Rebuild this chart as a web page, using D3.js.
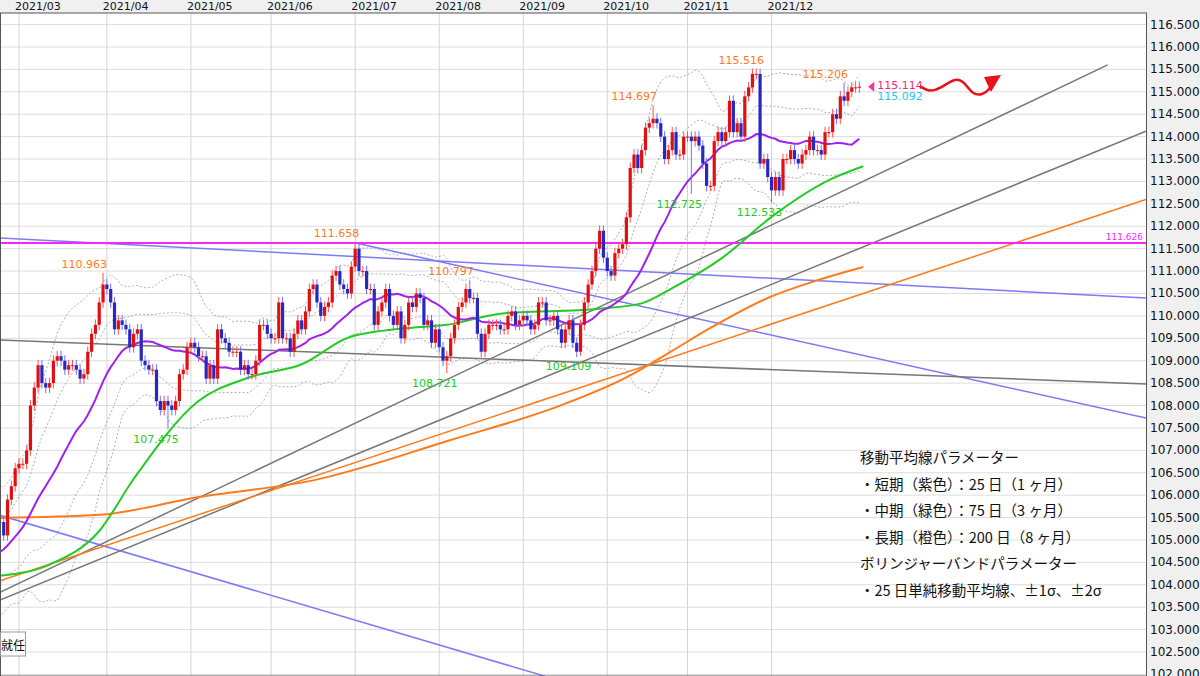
<!DOCTYPE html>
<html><head><meta charset="utf-8">
<script src="https://cdn.jsdelivr.net/npm/d3@7"></script>
<style>body{margin:0;background:#fff;font-family:"Noto Sans CJK JP","DejaVu Sans",sans-serif}</style>
</head><body><svg id="c" width="1200" height="676"></svg>
<script>
// daily closes; warm-up (Jan/Feb, off-screen) then visible from Feb 22
var warmup = [103.6,103.8,103.7,104.1,104.2,103.9,103.6,103.8,104.3,104.7,104.9,105.0,105.0,105.5,105.4,104.6,104.8,104.9,104.9,105.1,106.0,106.0,105.7,105.4];
var feb = [105.4,105.1,105.9,106.2,106.6];
var mar = [106.7,106.7,107.0,108.0,108.4,108.9,108.5,108.4,108.5,109.0,109.1,109.0,108.8,108.9,108.9,108.8,108.6,108.7,109.2,109.6,109.8,110.3,110.7];
var apr = [110.6,110.3,109.7,109.9,109.8,109.7,109.3,109.6,109.7,109.0,108.9,108.8,108.8,108.1,107.9,108.1,108.0,107.9,108.1,108.7,108.8,109.3];
var may = [109.4,109.3,109.1,109.1,108.6,108.9,108.6,109.7,109.5,109.4,109.2,109.2,109.2,108.8,108.9,108.7,108.7,109.0,109.8,109.8,109.6];
var jun = [109.5,109.5,110.3,109.5,109.5,109.2,109.6,109.9,109.7,110.1,110.6,110.7,110.3,110.0,110.2,110.3,110.9,111.0,110.7,110.6,110.5,111.1];
var jul = [111.5,111.0,111.0,110.6,110.6,109.8,110.1,110.3,110.6,110.0,109.8,110.1,109.5,109.8,110.3,110.2,110.5,110.4,109.8,109.9,109.4,109.7];
var aug = [109.3,109.0,109.1,109.5,109.8,110.2,110.3,110.6,110.4,110.4,109.6,109.2,109.6,109.8,109.8,109.8,109.7,109.7,110.0,110.1,109.8,109.9];
var sep = [110.0,109.9,109.7,109.8,110.3,110.3,109.9,109.9,110.0,109.7,109.4,109.7,109.9,109.4,109.2,109.8,110.3,110.7,111.0,111.5,111.9,111.3];
var oct = [111.0,110.9,111.4,111.5,111.6,112.2,113.3,113.6,113.3,113.7,114.2,114.3,114.4,114.3,114.0,113.5,113.7,114.1,113.6,113.6,114.0];
var nov = [114.0,113.9,114.0,113.8,113.4,112.9,112.9,113.9,114.1,113.9,114.1,114.8,114.1,114.3,114.0,114.9,115.1,115.4,115.4,113.4,113.5,113.1];
var dec = [112.8,113.1,112.8,113.5,113.5,113.7,113.5,113.4,113.6,113.7,114.0,113.7,113.7,113.6,114.1,114.1,114.5,114.4,114.9,114.8,115.0,115.1,115.1,115.114];

var monthLabels = ["2021/03","2021/04","2021/05","2021/06","2021/07","2021/08","2021/09","2021/10","2021/11","2021/12"];
var monthStarts = [0,23,45,66,88,110,132,154,175,197];
// labelled highs/lows: [index, price, kind]
var extremes = [[22,110.963,"h"],[39,107.475,"l"],[88,111.658,"h"],[112,108.721,"l"],[118,110.797,"h"],[147,109.109,"l"],[166,114.697,"h"],[176,112.725,"l"],[194,115.516,"h"],[197,112.533,"l"],[216,115.206,"h"]];
// MA75 (green) and MA200 (orange): [index, value]
var ma75 = [[-5,104.2],[8,104.45],[21,105.2],[30,106.36],[47,108.1],[60,108.62],[74,108.92],[87,109.54],[105,109.75],[112,109.8],[126,110.05],[152,110.16],[163,110.28],[171,110.62],[184,111.29],[197,112.21],[212,113.03],[221,113.34]];
var ma200 = [[-5,105.49],[21,105.56],[47,105.96],[77,106.33],[113,107.23],[142,108.01],[159,108.63],[170,109.17],[181,109.73],[196,110.4],[207,110.74],[221,111.09]];
// trend lines: [i1, p1, i2, p2, colour]
var trends = [[-5,111.74,295,110.40,"#7b7bf5"],[88.5,111.62,295,107.72,"#7b7bf5"],[-5,105.55,137.7,101.96,"#7b7bf5"],
  [-5,109.46,295,108.48,"#777"],[-5,103.83,285,115.6,"#777"],[-5,103.66,295,114.12,"#777"],[-5,104.09,295,112.6,"#ff7a1a"]];
var hLine = 111.626;
var yTicks = d3.range(102.0, 116.51, 0.5);
var notes = ["移動平均線パラメーター","・短期（紫色）：25 日（1 ヶ月）","・中期（緑色）：75 日（3 ヶ月）","・長期（橙色）：200 日（8 ヶ月）","ボリンジャーバンドパラメーター","・25 日単純移動平均線、±1σ、±2σ"];

var svg = d3.select("#c");
var W = 1146, T = 13;
var all = warmup.concat(feb, mar, apr, may, jun, jul, aug, sep, oct, nov, dec);
var off = warmup.length + feb.length; // index 0 = Mar 1
var x = d3.scaleLinear().domain([0, 1]).range([19, 22.82]);
var y = d3.scaleLinear().domain([116.5, 102.5]).range([24.6, 652]);

svg.append("rect").attr("width", 1200).attr("height", T).attr("fill", "#f0f0f0");
svg.append("rect").attr("x", W).attr("width", 54).attr("height", 676).attr("fill", "#f0f0f0");
svg.append("clipPath").attr("id", "cp").append("rect").attr("x", 0).attr("y", T).attr("width", W).attr("height", 676 - T);
var g = svg.append("g").attr("clip-path", "url(#cp)");

g.selectAll(".hg").data(yTicks).enter().append("line")
  .attr("x1", 0).attr("x2", W).attr("y1", d => y(d)).attr("y2", d => y(d)).attr("stroke", "#ddd");
g.selectAll(".vg").data(monthStarts).enter().append("line")
  .attr("x1", d => x(d)).attr("x2", d => x(d)).attr("y1", T).attr("y2", 676).attr("stroke", "#d4d4d4");

// bollinger + ma25
var bands = [[], [], [], [], []];
for (var k = -5; k < all.length - off; k++) {
  var j = k + off, win = all.slice(j - 24, j + 1);
  var m = d3.mean(win), s = d3.deviation(win) * Math.sqrt(24 / 25);
  [-2, -1, 0, 1, 2].forEach((q, n) => bands[n].push([k, m + q * s]));
}
var line = d3.line().x(d => x(d[0])).y(d => y(d[1]));
var curve = d3.line().x(d => x(d[0])).y(d => y(d[1])).curve(d3.curveMonotoneX);
[0, 1, 3, 4].forEach(n => g.append("path").attr("d", line(bands[n])).attr("fill", "none")
  .attr("stroke", "#999").attr("stroke-width", 0.8).attr("stroke-dasharray", "2,2"));

trends.forEach(t => g.append("line").attr("x1", x(t[0])).attr("y1", y(t[1])).attr("x2", x(t[2])).attr("y2", y(t[3]))
  .attr("stroke", t[4]).attr("stroke-width", 1.5));
g.append("line").attr("x1", 0).attr("x2", W).attr("y1", y(hLine)).attr("y2", y(hLine)).attr("stroke", "#ff22ff").attr("stroke-width", 2);

g.append("path").attr("d", curve(ma200)).attr("fill", "none").attr("stroke", "#ff7a1a").attr("stroke-width", 2);
g.append("path").attr("d", curve(ma75)).attr("fill", "none").attr("stroke", "#22cc22").attr("stroke-width", 2);
g.append("path").attr("d", line(bands[2])).attr("fill", "none").attr("stroke", "#a020f0").attr("stroke-width", 2);

// candles
var ext = new Map(extremes.map(e => [e[0], e]));
var candles = [];
for (var k = -5; k < all.length - off; k++) {
  var o = all[k + off - 1], c = all[k + off];
  var hi = Math.max(o, c) + 0.12, lo = Math.min(o, c) - 0.12, e = ext.get(k);
  if (e && e[2] == "h") hi = e[1];
  if (e && e[2] == "l") lo = e[1];
  candles.push({ i: k, o: o, c: c, h: hi, l: lo });
}
var cg = g.selectAll(".cd").data(candles).enter().append("g");
cg.append("line").attr("x1", d => x(d.i)).attr("x2", d => x(d.i)).attr("y1", d => y(d.h)).attr("y2", d => y(d.l))
  .attr("stroke", d => d.c >= d.o ? "#ff5050" : "#7070ff");
cg.append("rect").attr("x", d => x(d.i) - 1.6).attr("width", 3.2)
  .attr("y", d => y(Math.max(d.o, d.c))).attr("height", d => Math.max(1, Math.abs(y(d.o) - y(d.c))))
  .attr("fill", d => d.c >= d.o ? "#e01010" : "#2828c0");

svg.selectAll(".ex").data(extremes).enter().append("text")
  .attr("x", d => x(d[0]) + (d[2] == "h" ? 4 : -12)).attr("y", d => d[2] == "h" ? y(d[1]) - 5 : y(d[1]) + 14)
  .attr("text-anchor", d => d[2] == "h" ? "end" : "middle")
  .attr("font-size", 11).attr("font-family", "DejaVu Sans")
  .attr("fill", d => d[2] == "h" ? "#ff7a1a" : "#1ccc1c").text(d => d[1].toFixed(3));

// last price marker
var last = dec[dec.length - 1];
svg.append("path").attr("d", `M${x(221) + 5},${y(last)} l6,-5 v10 z`).attr("fill", "#ff2f9a");
svg.append("text").attr("x", x(221) + 14).attr("y", y(last) + 2).attr("font-size", 11).attr("font-family", "DejaVu Sans").attr("fill", "#ff1f7a").text("115.114");
svg.append("text").attr("x", x(221) + 14).attr("y", y(last) + 13).attr("font-size", 11).attr("font-family", "DejaVu Sans").attr("fill", "#1ec8f0").text("115.092");
svg.append("path").attr("d", "M920,86 C935,98 945,82 955,80 C968,78 968,98 982,94 C988,92 990,88 993,82")
  .attr("fill", "none").attr("stroke", "#e8101a").attr("stroke-width", 2.5);
svg.append("path").attr("d", "M984,77 L1001,75 L991,92 Z").attr("fill", "#e8101a");

// axes
svg.selectAll(".ml").data(monthStarts).enter().append("text").attr("x", (d, n) => x(d) - 4).attr("y", 10)
  .attr("font-size", 11).attr("font-family", "DejaVu Sans").attr("fill", "#111").text((d, n) => monthLabels[n]);
svg.selectAll(".yl").data(yTicks).enter().append("text").attr("x", 1150).attr("y", d => y(d) + 4)
  .attr("font-size", 12).attr("font-family", "DejaVu Sans").attr("fill", "#111").text(d => d.toFixed(3));
svg.append("text").attr("x", 1143).attr("y", y(hLine) - 3).attr("text-anchor", "end").attr("font-size", 9)
  .attr("font-family", "DejaVu Sans").attr("fill", "#ff22ff").text(hLine.toFixed(3));
svg.append("rect").attr("x", 0.5).attr("y", T).attr("width", W).attr("height", 676 - T).attr("fill", "none").attr("stroke", "#555");

// notes
svg.selectAll(".nt").data(notes).enter().append("text").attr("x", 860).attr("y", (d, n) => 463 + n * 26.5)
  .attr("font-size", 14.5).attr("fill", "#111").text(d => d);
svg.append("rect").attr("x", 0.5).attr("y", 632).attr("width", 25).attr("height", 24).attr("fill", "#fff").attr("stroke", "#999");
svg.append("text").attr("x", 1).attr("y", 650).attr("font-size", 12).attr("fill", "#111").text("就任");
</script></body></html>
